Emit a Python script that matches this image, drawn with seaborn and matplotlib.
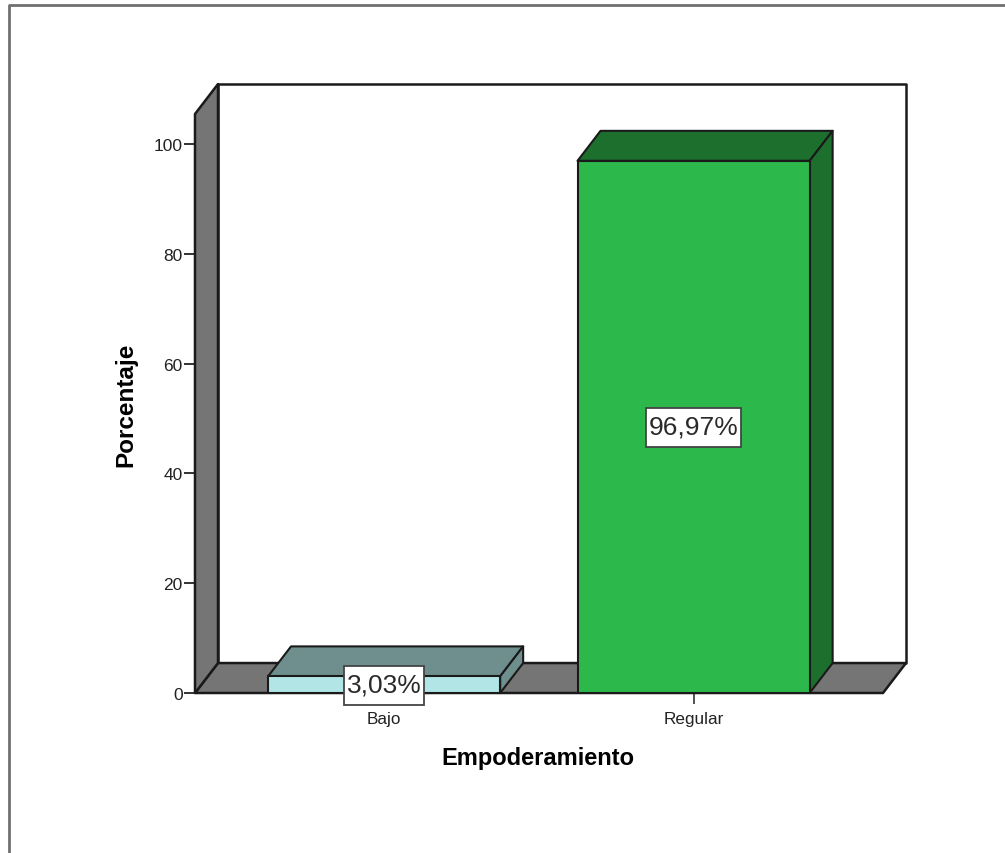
import matplotlib
matplotlib.use("Agg")
import matplotlib.pyplot as plt
from matplotlib.lines import Line2D
from matplotlib.patches import Polygon, Rectangle
from matplotlib.transforms import IdentityTransform
import pandas as pd
import seaborn as sns

categories = ["Bajo", "Regular"]
percentages = [3.03, 96.97]
value_labels = ["3,03%", "96,97%"]
y_ticks = [0, 20, 40, 60, 80, 100]

FRONT_COLORS = ["#B2E6E6", "#2DB84B"]
TOP_COLORS = ["#6F8F8F", "#1D6F2E"]
SIDE_COLORS = ["#6F8F8F", "#1D6F2E"]
WALL_COLOR = "#757575"
EDGE_COLOR = "#1A1A1A"
FRAME_COLOR = "#707070"

# Oblique depth of the pseudo-3D box, in data units
DEPTH_X = 0.0743
DEPTH_Y = 5.46

W, H = 1005, 854

sns.set_theme(style="white")
plt.rcParams["font.family"] = ["Liberation Sans", "DejaVu Sans"]

fig = plt.figure(figsize=(W / 100, H / 100), dpi=100, facecolor="white")
ax = fig.add_axes([195 / W, 1 - 694 / H, 688 / W, 579 / H])
ax.patch.set_alpha(0)

df = pd.DataFrame({"Empoderamiento": categories, "Porcentaje": percentages})
sns.barplot(
    data=df, x="Empoderamiento", y="Porcentaje", hue="Empoderamiento",
    palette=FRONT_COLORS, legend=False, width=0.75, saturation=1,
    edgecolor=EDGE_COLOR, linewidth=1.5, ax=ax, zorder=5,
)

ax.set_xlim(-0.611, 1.612)
ax.set_ylim(0, 105.5)
x0, x1 = ax.get_xlim()
y0, y1 = ax.get_ylim()


def face(points, color, z, lw=1.5):
    ax.add_patch(Polygon(points, closed=True, facecolor=color, edgecolor=EDGE_COLOR,
                         linewidth=lw, joinstyle="round", clip_on=False, zorder=z))


# Room: back wall, floor and left wall
face([(x0 + DEPTH_X, y0 + DEPTH_Y), (x1 + DEPTH_X, y0 + DEPTH_Y),
      (x1 + DEPTH_X, y1 + DEPTH_Y), (x0 + DEPTH_X, y1 + DEPTH_Y)], "white", 1, 1.8)
face([(x0, y0), (x1, y0), (x1 + DEPTH_X, y0 + DEPTH_Y), (x0 + DEPTH_X, y0 + DEPTH_Y)],
     WALL_COLOR, 2, 1.8)
face([(x0, y0), (x0 + DEPTH_X, y0 + DEPTH_Y), (x0 + DEPTH_X, y1 + DEPTH_Y), (x0, y1)],
     WALL_COLOR, 2, 1.8)

# Top and side faces of each bar, taken from the drawn rectangles
for bar, top, side in zip(ax.patches[:2], TOP_COLORS, SIDE_COLORS):
    left, right, h = bar.get_x(), bar.get_x() + bar.get_width(), bar.get_height()
    face([(left, h), (right, h), (right + DEPTH_X, h + DEPTH_Y), (left + DEPTH_X, h + DEPTH_Y)],
         top, 4)
    face([(right, 0), (right + DEPTH_X, DEPTH_Y), (right + DEPTH_X, h + DEPTH_Y), (right, h)],
         side, 4)

ax.set_yticks(y_ticks)
ax.set_xticks(range(len(categories)))
ax.set_xticklabels(categories)
ax.tick_params(axis="y", left=True, length=8, width=1.4, color="#333333",
               labelsize=12.5, labelcolor="#222222", pad=1)
ax.tick_params(axis="x", bottom=True, length=8, width=1.2, color="#333333",
               labelsize=12.3, labelcolor="#222222", pad=5)
for spine in ax.spines.values():
    spine.set_visible(False)

ax.set_xlabel("Empoderamiento", fontsize=17, fontweight="bold", color="black", va="center")
ax.set_ylabel("Porcentaje", fontsize=17.5, fontweight="bold", color="black", va="center")
ax.xaxis.set_label_coords(0.4985, -0.112)
ax.yaxis.set_label_coords(-0.1, 0.499)

# Value boxes centred on the front of each bar, sized around the rendered text
renderer = fig.canvas.get_renderer()
for i, (val, lab) in enumerate(zip(percentages, value_labels)):
    txt = ax.text(i, val / 2, lab, ha="center", va="center", fontsize=19, color="#2A2A2A",
                  zorder=9, clip_on=False)
    ext = txt.get_window_extent(renderer)
    box = Rectangle((ext.x0 - 3, ext.y0 - 8), ext.width + 6, ext.height + 15,
                    transform=IdentityTransform(), facecolor="white",
                    edgecolor="#444444", linewidth=1.3, clip_on=False, zorder=8)
    ax.add_patch(box)

# Outer chart frame along the top and left of the canvas
fig.add_artist(Line2D([9 / W, 9 / W, 1], [0, 1 - 6 / H, 1 - 6 / H],
                      color=FRAME_COLOR, linewidth=2))

fig.savefig("out.png", dpi=100, facecolor="white")
